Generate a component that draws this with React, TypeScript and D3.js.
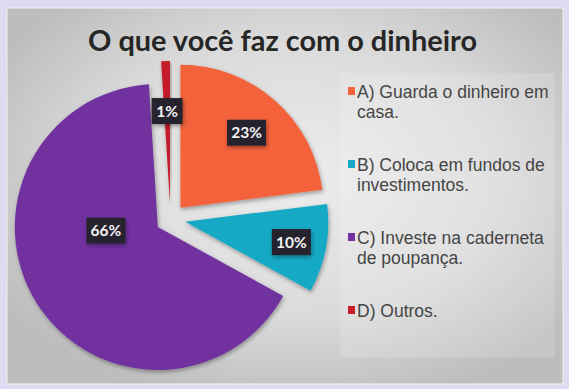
import * as d3 from "d3";
import { useEffect, useRef } from "react";

const title = "O que você faz com o dinheiro";
const keys = ["A", "B", "C", "D"];
const values = [23, 10, 66, 1];
const legendLines = [
  ["A) Guarda o dinheiro em", "casa."],
  ["B) Coloca em fundos de", "investimentos."],
  ["C) Investe na caderneta", "de poupança."],
  ["D) Outros."],
];
const colors = ["#f3623a", "#19a9c6", "#7131a0", "#c61f2a"];

export default function App() {
  const ref = useRef<SVGSVGElement | null>(null);

  useEffect(() => {
    document.body.style.margin = "0";
    const width = 569,
      height = 389;
    const svg = d3.select(ref.current);
    svg.selectAll("*").remove();

    const defs = svg.append("defs");
    const grad = defs
      .append("radialGradient")
      .attr("id", "bg")
      .attr("cx", "0.52")
      .attr("cy", "0.45")
      .attr("r", "0.62");
    grad.append("stop").attr("offset", "0").attr("stop-color", "#ededed");
    grad.append("stop").attr("offset", "0.6").attr("stop-color", "#dadada");
    grad.append("stop").attr("offset", "1").attr("stop-color", "#bdbdbd");

    const shadow = defs
      .append("filter")
      .attr("id", "sh")
      .attr("x", "-20%")
      .attr("y", "-20%")
      .attr("width", "140%")
      .attr("height", "140%");
    shadow
      .append("feDropShadow")
      .attr("dx", 1)
      .attr("dy", 2)
      .attr("stdDeviation", 2)
      .attr("flood-color", "#000")
      .attr("flood-opacity", 0.35);

    // outer frame + panel
    svg.append("rect").attr("width", width).attr("height", height).attr("fill", "#dddbf2");
    svg
      .append("rect")
      .attr("x", 7)
      .attr("y", 8)
      .attr("width", 556)
      .attr("height", 376)
      .attr("fill", "url(#bg)")
      .attr("stroke", "#f2f2f2")
      .attr("stroke-width", 1);

    svg
      .append("text")
      .attr("x", 282.5)
      .attr("y", 51)
      .attr("text-anchor", "middle")
      .attr("font-family", "Lato, 'Open Sans', sans-serif")
      .attr("font-weight", 700)
      .attr("font-size", 29)
      .attr("fill", "#262626")
      .attr("textLength", 389)
      .attr("lengthAdjust", "spacingAndGlyphs")
      .text(title);

    // pie
    const cx = 170.5,
      cy = 219,
      r = 143,
      explode = 15;
    const pie = d3
      .pie<number>()
      .sort(null)
      .value((d) => d);
    const arcs = pie(values);
    const arc = d3.arc<d3.PieArcDatum<number>>().innerRadius(0).outerRadius(r);
    const offset = (d: d3.PieArcDatum<number>) => {
      const a = (d.startAngle + d.endAngle) / 2;
      return [cx + explode * Math.sin(a), cy - explode * Math.cos(a)];
    };

    const g = svg.append("g");
    g.selectAll("path")
      .data(arcs)
      .enter()
      .append("path")
      .attr("transform", (d) => `translate(${offset(d)})`)
      .attr("d", arc)
      .attr("fill", (d, i) => colors[i])
      .attr("filter", "url(#sh)");

    // labels (big slice label sits nearer the middle, like Excel's best fit)
    const labelR = [100, 108, 52, 93];
    const labelAngle = [null, null, (266 * Math.PI) / 180, null];
    const labels = svg
      .selectAll("g.label")
      .data(arcs)
      .enter()
      .append("g")
      .attr("class", "label")
      .attr("transform", (d, i) => {
        const [ox, oy] = offset(d);
        const a = labelAngle[i] ?? (d.startAngle + d.endAngle) / 2;
        return `translate(${ox + labelR[i] * Math.sin(a)},${oy - labelR[i] * Math.cos(a)})`;
      });
    labels
      .append("rect")
      .attr("x", (d) => (d.data < 10 ? -15.5 : -19.5))
      .attr("y", -13)
      .attr("width", (d) => (d.data < 10 ? 31 : 39))
      .attr("height", 26)
      .attr("fill", "#27232f")
      .attr("filter", "url(#sh)");
    labels
      .append("text")
      .attr("text-anchor", "middle")
      .attr("y", 5.5)
      .attr("font-family", "Lato, 'Open Sans', sans-serif")
      .attr("font-weight", 700)
      .attr("font-size", 15.5)
      .attr("fill", "#f2f2f2")
      .text((d) => `${d.data}%`);

    // legend
    svg
      .append("rect")
      .attr("x", 340)
      .attr("y", 73)
      .attr("width", 215)
      .attr("height", 285)
      .attr("fill", "#ffffff")
      .attr("opacity", 0.15);

    const y = d3.scalePoint<string>().domain(keys).range([98, 317]);
    const leg = svg
      .selectAll("g.leg")
      .data(keys)
      .enter()
      .append("g")
      .attr("class", "leg")
      .attr("transform", (k) => `translate(348,${y(k)})`);
    leg
      .append("rect")
      .attr("x", 0)
      .attr("y", -11)
      .attr("width", 7)
      .attr("height", 8)
      .attr("fill", (k, i) => colors[i]);
    leg
      .append("text")
      .attr("font-family", "'Liberation Sans', Arial, sans-serif")
      .attr("font-size", 17.5)
      .attr("fill", "#454545")
      .selectAll("tspan")
      .data((k, i) => legendLines[i])
      .enter()
      .append("tspan")
      .attr("x", 9)
      .attr("dy", (t, j) => (j === 0 ? 0 : 20))
      .text((t) => t);
  }, []);

  return <svg ref={ref} width={569} height={389} style={{ display: "block" }} />;
}
